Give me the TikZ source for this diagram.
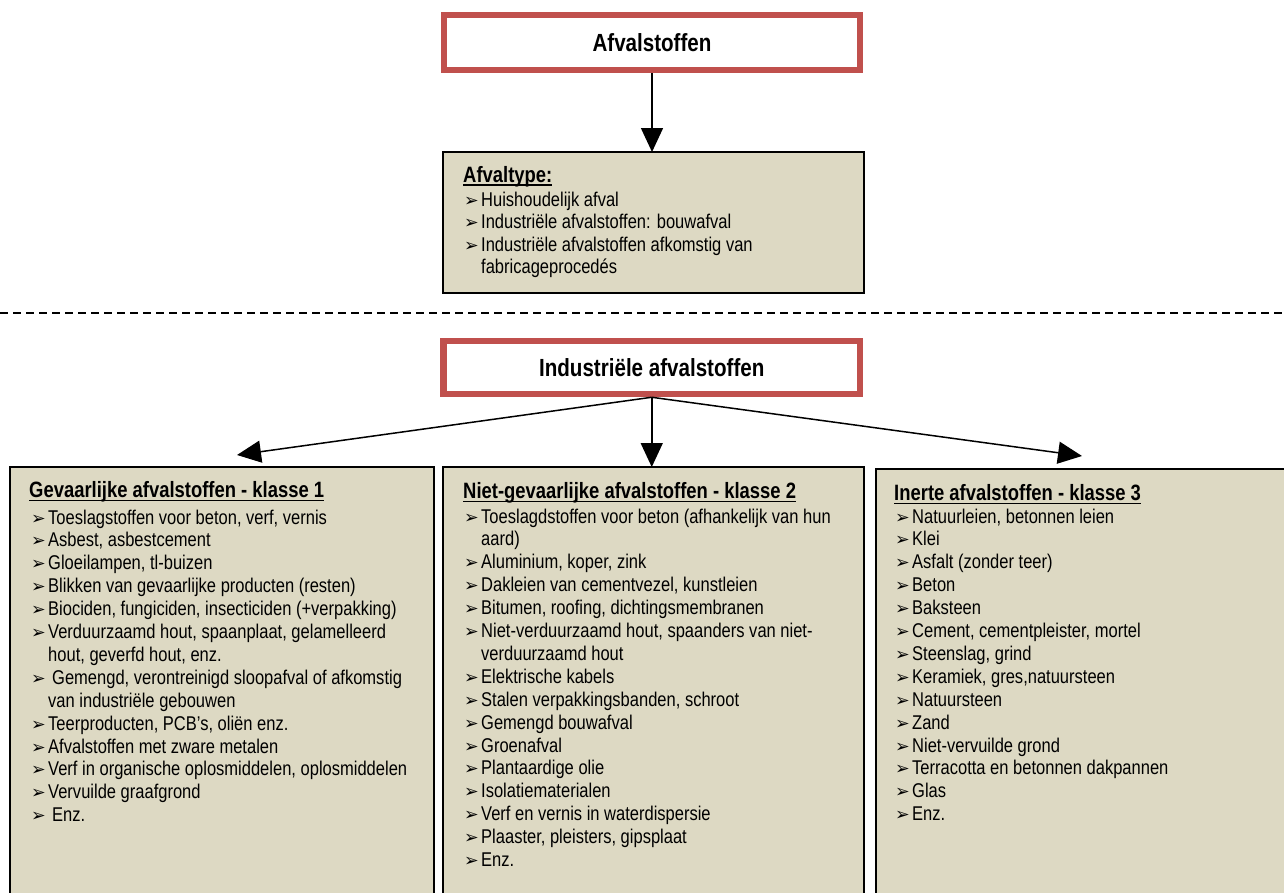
\documentclass[tikz,border=0pt]{standalone}
\usepackage{fontspec}
\setmainfont{Liberation Sans}[FakeStretch=0.83]
\newfontfamily\dejavu{DejaVu Sans}
\usetikzlibrary{arrows.meta}
\definecolor{redb}{HTML}{C0504D}
\definecolor{boxtan}{HTML}{DDD9C3}
\newcommand{\bu}{\makebox[17pt][l]{\dejavu\fontsize{17.5}{17.5}\selectfont ➢}}
\newcommand{\ct}{\hspace*{17pt}}
\begin{document}
\begin{tikzpicture}[x=1pt,y=-1pt,
  redbox/.style={draw=redb, line width=6.5pt, fill=white, inner sep=0pt,
    font=\fontsize{24.8}{28}\selectfont\bfseries},
  tanbox/.style={draw=black, line width=1.8pt, fill=boxtan, inner sep=0pt, outer sep=0pt, anchor=north west},
  itm/.style={anchor=base west, inner sep=0pt, font=\fontsize{19.9}{22}\selectfont},
  hd/.style={anchor=base west, inner sep=0pt, font=\fontsize{22.2}{26}\selectfont\bfseries},
  ul/.style={line width=1.6pt},
  ar/.style={line width=1.5pt, -{Triangle[length=24pt,width=22pt]}},
  dash line/.style={line width=2.2pt, dash pattern=on 8pt off 5pt}
]
\useasboundingbox (0,0) rectangle (1284,892);

% top part
\node[redbox, minimum width=416pt, minimum height=55pt] (top) at (652,42.5) {Afvalstoffen};
\node[tanbox, minimum width=421pt, minimum height=141pt] (afv) at (443,152) {};
\draw[ar] (top.south) -- (afv.north -| top.south);

\node[hd] (afvh) at (463,182) {Afvaltype:};
\draw[ul] ([yshift=-3.2pt]afvh.base west) -- ([yshift=-3.2pt]afvh.base east);
\foreach \t [count=\i from 0] in {
  {\bu Huishoudelijk afval},
  {\bu Industriële afvalstoffen: bouwafval},
  {\bu Industriële afvalstoffen afkomstig van},
  {\ct fabricageprocedés}} {
  \node[itm] (A\i) at (464,{206+\i*22.5}) {\t};
}

% dashed separator
\coordinate (dl) at (0,313);
\coordinate (dr) at (1284,313);
\draw[dash line] (dl) -- (dr);

% lower part
\node[redbox, minimum width=416.5pt, minimum height=53pt] (ind) at (651.75,367.5) {Industriële afvalstoffen};

\node[tanbox, minimum width=424pt, minimum height=450pt] (b1) at (10,467) {};
\node[tanbox, minimum width=421pt, minimum height=450pt] (b2) at (443,467) {};
\node[tanbox, minimum width=420pt, minimum height=450pt] (b3) at (876,469) {};

\coordinate (t1) at (237,455);
\coordinate (t3) at (1082,456);
\draw[ar] (ind.south) -- (t1);
\draw[ar] (ind.south) -- (ind.south |- b2.north);
\draw[ar] (ind.south) -- (t3);

% box 1
\node[hd] (h1) at (29,497) {Gevaarlijke afvalstoffen - klasse 1};
\draw[ul] ([yshift=-3.5pt]h1.base west) -- ([yshift=-3.5pt]h1.base east);
\foreach \t [count=\i from 0] in {
  {\bu Toeslagstoffen voor beton, verf, vernis},
  {\bu Asbest, asbestcement},
  {\bu Gloeilampen, tl-buizen},
  {\bu Blikken van gevaarlijke producten (resten)},
  {\bu Biociden, fungiciden, insecticiden (+verpakking)},
  {\bu Verduurzaamd hout, spaanplaat, gelamelleerd},
  {\ct hout, geverfd hout, enz.},
  {\bu\hspace{4pt}Gemengd, verontreinigd sloopafval of afkomstig},
  {\ct van industriële gebouwen},
  {\bu Teerproducten, PCB's, oliën enz.},
  {\bu Afvalstoffen met zware metalen},
  {\bu Verf in organische oplosmiddelen, oplosmiddelen},
  {\bu Vervuilde graafgrond},
  {\bu\hspace{4pt}Enz.}} {
  \node[itm] (L\i) at (31,{524+\i*22.9}) {\t};
}

% box 2
\node[hd] (h2) at (463,498) {Niet-gevaarlijke afvalstoffen - klasse 2};
\draw[ul] ([yshift=-3.5pt]h2.base west) -- ([yshift=-3.5pt]h2.base east);
\foreach \t [count=\i from 0] in {
  {\bu Toeslagdstoffen voor beton (afhankelijk van hun},
  {\ct aard)},
  {\bu Aluminium, koper, zink},
  {\bu Dakleien van cementvezel, kunstleien},
  {\bu Bitumen, roofing, dichtingsmembranen},
  {\bu Niet-verduurzaamd hout, spaanders van niet-},
  {\ct verduurzaamd hout},
  {\bu Elektrische kabels},
  {\bu Stalen verpakkingsbanden, schroot},
  {\bu Gemengd bouwafval},
  {\bu Groenafval},
  {\bu Plantaardige olie},
  {\bu Isolatiematerialen},
  {\bu Verf en vernis in waterdispersie},
  {\bu Plaaster, pleisters, gipsplaat},
  {\bu Enz.}} {
  \node[itm] (M\i) at (464,{523+\i*22.9}) {\t};
}

% box 3
\node[hd] (h3) at (894,500) {Inerte afvalstoffen - klasse 3};
\draw[ul] ([yshift=-3.5pt]h3.base west) -- ([yshift=-3.5pt]h3.base east);
\foreach \t [count=\i from 0] in {
  {\bu Natuurleien, betonnen leien},
  {\bu Klei},
  {\bu Asfalt (zonder teer)},
  {\bu Beton},
  {\bu Baksteen},
  {\bu Cement, cementpleister, mortel},
  {\bu Steenslag, grind},
  {\bu Keramiek, gres,natuursteen},
  {\bu Natuursteen},
  {\bu Zand},
  {\bu Niet-vervuilde grond},
  {\bu Terracotta en betonnen dakpannen},
  {\bu Glas},
  {\bu Enz.}} {
  \node[itm] (R\i) at (895,{523+\i*22.9}) {\t};
}
\end{tikzpicture}
\end{document}
